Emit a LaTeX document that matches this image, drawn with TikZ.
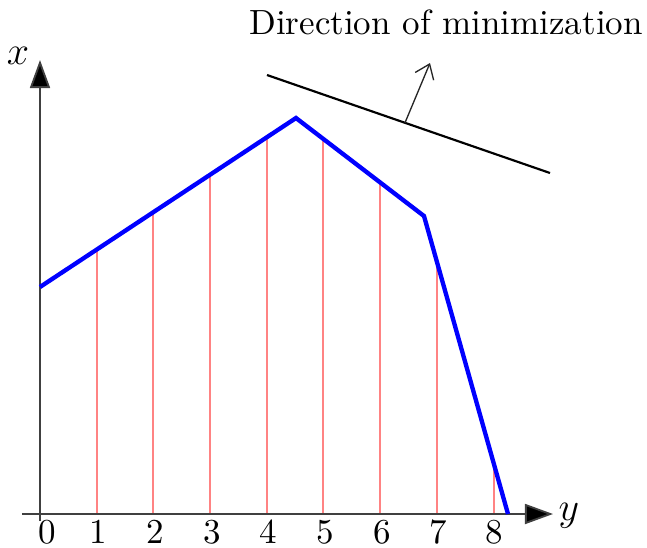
\documentclass[tikz,border=0pt]{standalone}
\usetikzlibrary{arrows.meta,calc}
\begin{document}
\begin{tikzpicture}[x=0.3pt,y=-0.3pt,
  axis/.style={line width=0.55pt,draw=black!75,-{Triangle[length=8.4pt,width=6pt,fill=black]}},
  blueline/.style={draw=blue,line width=1.3pt,line join=miter},
  redline/.style={draw=red!75,line width=0.35pt},
  blackline/.style={draw=black,line width=0.65pt},
  dirarrow/.style={draw=black!85,line width=0.4pt,-{Straight Barb[length=4pt,width=6pt]}},
  lab/.style={inner sep=0pt,font=\fontsize{10.5}{12}\selectfont},
  axlab/.style={inner sep=0pt,font=\large}]
\useasboundingbox (0,0) rectangle (647,548);
% polyline points
\coordinate (p0) at (40,287);
\coordinate (p1) at (296,118);
\coordinate (p2) at (424,216);
\coordinate (p3) at (508,514);
% bases and labels
\foreach \i/\xx/\dx in {0/40/7,1/97/1,2/153/2,3/210/2,4/267/1,5/323/2,6/380/2,7/437/1,8/494/0}{
  \coordinate (b\i) at (\xx,514);
  \node[lab] (n\i) at (\xx+\dx,532) {\i};
}
% tops on the blue line
\coordinate (t0) at (p0);
\coordinate (t1) at ($(p0)!0.2227!(p1)$);
\coordinate (t2) at ($(p0)!0.4414!(p1)$);
\coordinate (t3) at ($(p0)!0.6641!(p1)$);
\coordinate (t4) at ($(p0)!0.8867!(p1)$);
\coordinate (t5) at ($(p1)!0.2109!(p2)$);
\coordinate (t6) at ($(p1)!0.6563!(p2)$);
\coordinate (t7) at ($(p2)!0.1548!(p3)$);
\coordinate (t8) at ($(p2)!0.8333!(p3)$);
\foreach \i in {0,...,8}{\draw[redline] (b\i) -- (t\i);}
% axes
\coordinate (xs) at (22,514);
\coordinate (xe) at (553,514);
\coordinate (ys) at (40,521);
\coordinate (ye) at (40,60);
\draw[axis] (xs) -- (xe);
\draw[axis] (ys) -- (ye);
\node[axlab] (ylab) at (569,516) {$y$};
\node[axlab] (xlab) at (18,56) {$x$};
% blue polyline
\draw[blueline] (p0) -- (p1) -- (p2) -- (p3);
% objective line and direction
\coordinate (l1) at (267,75);
\coordinate (l2) at (550,173);
\draw[blackline] (l1) -- (l2);
\coordinate (a0) at ($(l1)!0.4876!(l2)$);
\coordinate (a1) at (430,63);
\draw[dirarrow] (a0) -- (a1);
\node[lab] (dir) at (446,22) {Direction of minimization};
\end{tikzpicture}
\end{document}
